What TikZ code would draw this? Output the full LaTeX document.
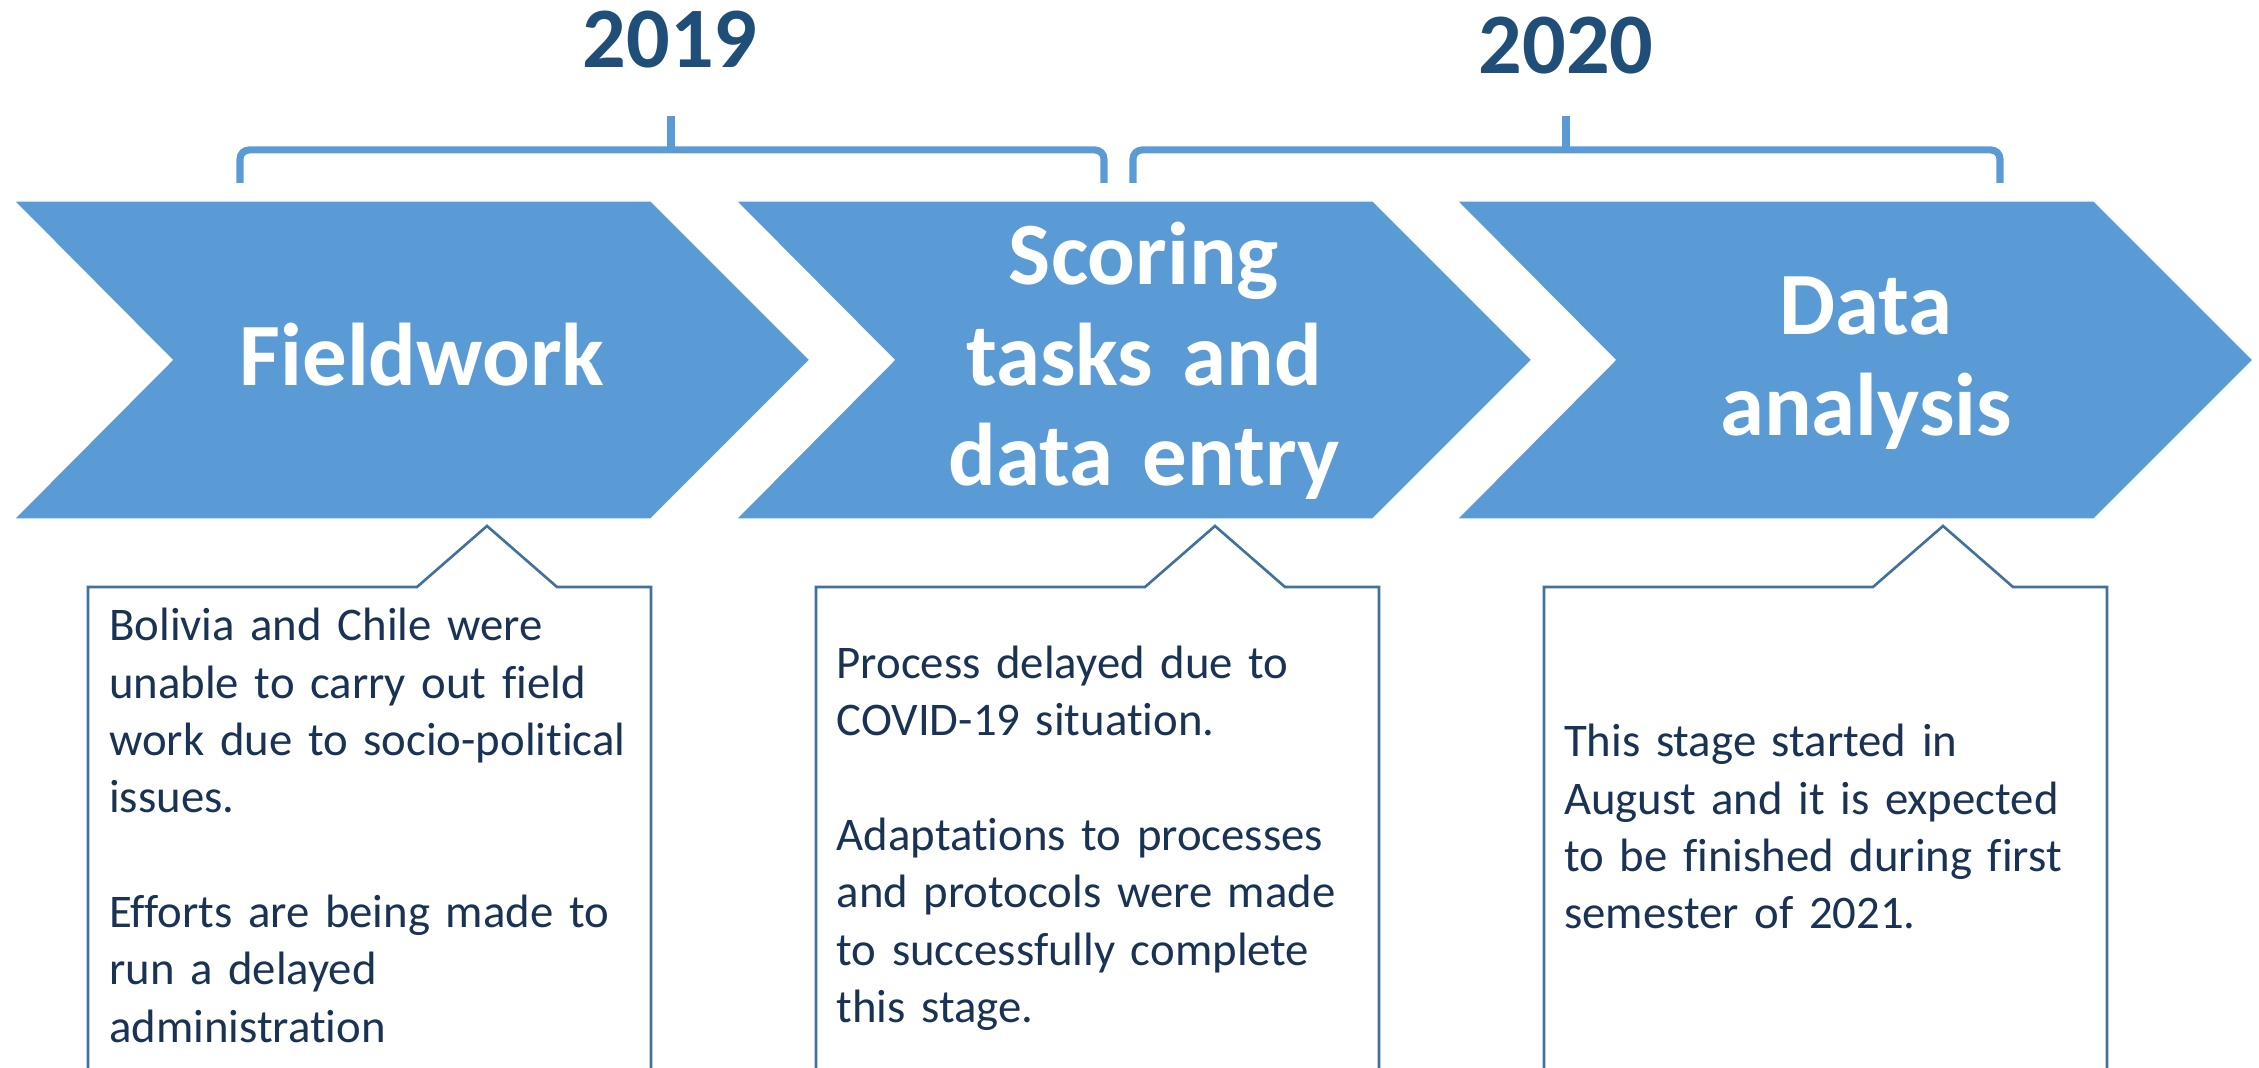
\documentclass[tikz,border=0pt]{standalone}
\usepackage{fontspec}
\setmainfont[Ligatures=NoCommon]{Carlito}
\definecolor{chev}{HTML}{5B9BD5}
\definecolor{yearc}{HTML}{1F4E79}
\definecolor{boxline}{HTML}{41719C}
\definecolor{boxtext}{HTML}{1A3355}
\tikzset{
  chevronshape/.style={fill=chev, draw=white, line width=0.4pt},
  chevtext/.style={text=white, font=\fontsize{25.3pt}{28.45pt}\selectfont\bfseries, inner sep=0pt, text width=6cm, align=center, anchor=base},
  yeartext/.style={text=yearc, font=\fontsize{24.5pt}{29pt}\selectfont\bfseries, inner sep=0pt, anchor=base},
  bracket/.style={draw=chev, line width=2pt, rounded corners=0.9mm},
  brackettip/.style={draw=chev, line width=2pt},
  callout/.style={draw=boxline, line width=0.75pt, fill=white},
  notetext/.style={text=boxtext, font=\fontsize{13.3pt}{16.3pt}\selectfont, inner sep=0pt, anchor=base west, text width=5.4cm, align=left},
}
\begin{document}
\begin{tikzpicture}[x=0.01cm, y=-0.01cm]
\useasboundingbox (0,0) rectangle (2259,1068);

% chevrons
\foreach \xo in {14,736,1457}{
  \path[chevronshape] (\xo,201) -- (\xo+637,201) -- (\xo+796,360) -- (\xo+637,519) -- (\xo,519) -- (\xo+158,360) -- cycle;
}

% brackets
\draw[bracket] (240,183) -- (240,150) -- (1104,150) -- (1104,183);
\draw[brackettip] (671,152) -- (671,116);
\draw[bracket] (1133,183) -- (1133,150) -- (2000,150) -- (2000,183);
\draw[brackettip] (1566,152) -- (1566,116);

% years
\node[yeartext] (y2019) at (670,68) {2019};
\node[yeartext] (y2020) at (1566,74) {2020};

% chevron labels
\node[chevtext] (fieldwork) at (422,386) {Fieldwork};
\node[chevtext] (scoring) at (1144,285) {Scoring\\tasks and\\data entry};
\node[chevtext] (analysis) at (1866,335) {Data\\analysis};

% callout boxes
\foreach \bl in {88,816,1544}{
  \path[callout] (\bl,1080) -- (\bl,587) -- (\bl+329,587) -- (\bl+399,526) -- (\bl+469,587) -- (\bl+563,587) -- (\bl+563,1080);
}

% notes
\node[notetext] (note1) at (108.5,641) {Bolivia and Chile were\\unable to carry out field\\work due to socio-political\\issues.\\[16.3pt]Efforts are being made to\\run a delayed\\administration};
\node[notetext] (note2) at (836,678.6) {Process delayed due to\\COVID-19 situation.\\[16.3pt]Adaptations to processes\\and protocols were made\\to successfully complete\\this stage.};
\node[notetext] (note3) at (1563.5,757) {This stage started in\\August and it is expected\\to be finished during first\\semester of 2021.};
\end{tikzpicture}
\end{document}
